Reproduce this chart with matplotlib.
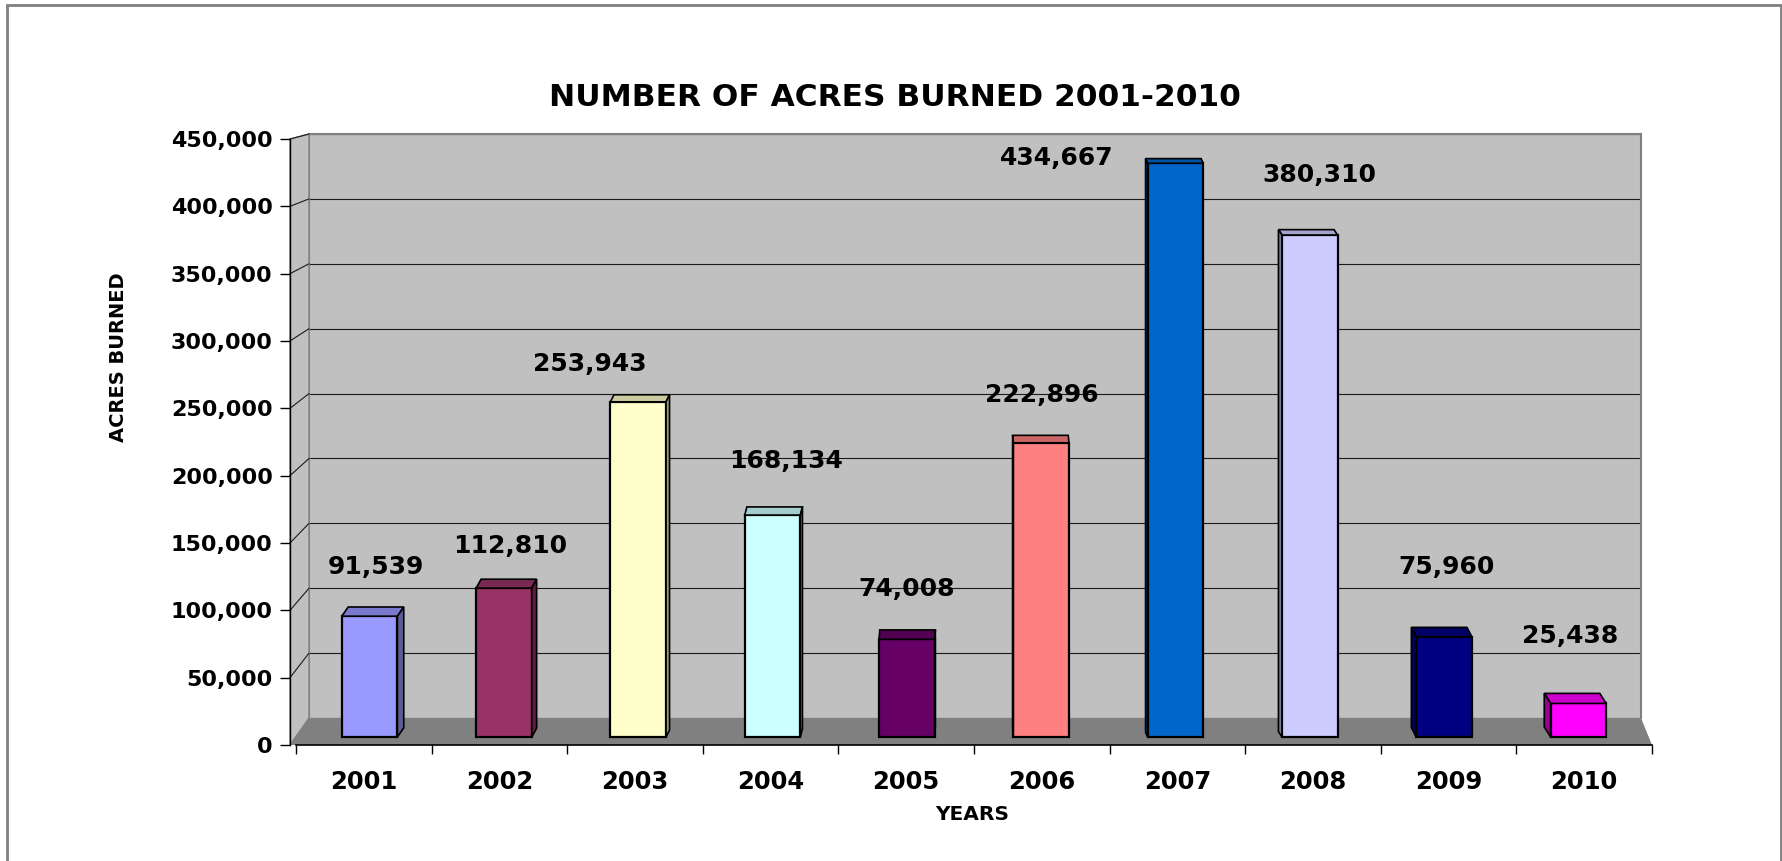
import matplotlib
matplotlib.use('Agg')
import matplotlib.pyplot as plt
from matplotlib.patches import Polygon, Rectangle, ConnectionPatch
from matplotlib.ticker import FuncFormatter
from matplotlib.colors import to_rgb
import numpy as np

# ---------------- data ----------------
years = ['2001', '2002', '2003', '2004', '2005', '2006', '2007', '2008', '2009', '2010']
acres = [91539, 112810, 253943, 168134, 74008, 222896, 434667, 380310, 75960, 25438]
y_ticks = [0, 50000, 100000, 150000, 200000, 250000, 300000, 350000, 400000, 450000]
title = 'NUMBER OF ACRES BURNED 2001-2010'
x_title = 'YEARS'
y_title = 'ACRES BURNED'

# ---------------- style ----------------
colors = ['#9999FF', '#993366', '#FFFFCC', '#CCFFFF', '#660066',
          '#FF8080', '#0066CC', '#CCCCFF', '#000080', '#FF00FF']
# data-label offsets (pixels: right, up) relative to the category centre at bar top
label_offsets_px = [(12, 49), (11, 42), (-45, 38), (15, 54), (0, 50),
                    (0, 48), (-121, 5), (6, 60), (-2, 70), (-14, 67)]

plt.rcParams['font.family'] = ['DejaVu Sans']
plt.rcParams['font.weight'] = 'bold'

W, H = 1783, 861
def fx(p): return p / W
def fy(p): return 1 - p / H
def box(l, t, r, b): return [fx(l), fy(b), fx(r) - fx(l), fy(t) - fy(b)]
def fpts(pts): return [(fx(a), fy(b)) for a, b in pts]

fig = plt.figure(figsize=(W / 100, H / 100), dpi=100)
fig.patch.set_facecolor('white')

# outer frame
fig.add_artist(Rectangle((fx(7), -0.05), fx(1781) - fx(7), fy(5) + 0.05, fill=False,
                         ec='#808080', lw=2, transform=fig.transFigure, zorder=0))

# back wall
wall = fig.add_axes(box(309, 134, 1641, 718), zorder=1)
wall.set_facecolor('#C0C0C0')
wall.set_xlim(0, 1)
wall.set_ylim(0, 450000)
wall.set_yticks(y_ticks)
wall.set_xticks([])
wall.tick_params(axis='y', length=0, labelleft=False)
wall.grid(axis='y', color='#1a1a1a', lw=0.8)
wall.set_axisbelow(True)
for sp in ['top', 'left', 'right']:
    wall.spines[sp].set_color('#808080')
    wall.spines[sp].set_linewidth(1.5)
wall.spines['bottom'].set_visible(False)

# side wall and floor
fig.add_artist(Polygon(fpts([(290, 139), (309, 134), (309, 718), (290, 745)]),
                       closed=True, fc='#C0C0C0', ec='#808080', lw=1,
                       transform=fig.transFigure, zorder=1.2))
fig.add_artist(Polygon(fpts([(309, 718), (1641, 718), (1652, 745), (290, 745)]),
                       closed=True, fc='#808080', ec='none',
                       transform=fig.transFigure, zorder=1.3))

# front value axis
axy = fig.add_axes(box(290, 139, 291, 745), zorder=1.6)
axy.set_facecolor('none')
axy.set_xlim(0, 1)
axy.set_ylim(0, 450000)
axy.set_yticks(y_ticks)
axy.set_xticks([])
axy.yaxis.set_major_formatter(FuncFormatter(lambda v, p: f'{int(v):,}'))
for sp in ['top', 'right', 'bottom']:
    axy.spines[sp].set_visible(False)
axy.spines['left'].set_color('black')
axy.spines['left'].set_linewidth(1)
axy.tick_params(axis='y', length=7.5, width=1, pad=5, labelsize=16)
for t in axy.get_yticklabels():
    t.set_fontweight('bold')

# diagonal grid lines on side wall
for v in y_ticks[1:]:
    cp = ConnectionPatch(xyA=(0, v), coordsA=axy.transData, xyB=(0, v), coordsB=wall.transData,
                         color='#1a1a1a', lw=0.8, zorder=1.4)
    fig.add_artist(cp)

# main bar axes
s = 1.32e-3           # pixels per acre
base_px = 737         # pixel row of bar bases
ax = fig.add_axes(box(296, 134, 1652, 745), zorder=3)
ax.set_facecolor('none')
ax.set_xlim(-0.5, len(years) - 0.5)
ax.set_ylim(-(745 - base_px) / s, (base_px - 134) / s)
for sp in ['top', 'left', 'right']:
    ax.spines[sp].set_visible(False)
ax.spines['bottom'].set_color('black')
ax.spines['bottom'].set_linewidth(1.2)
ax.set_yticks([])
x = np.arange(len(years))
ax.set_xticks(np.arange(len(years) + 1) - 0.5)
ax.set_xticklabels([])
ax.tick_params(axis='x', which='major', length=6.5, width=1, direction='out')
ax.set_xticks(x, minor=True)
ax.set_xticklabels(years, minor=True, fontsize=17.5, fontweight='bold')
ax.tick_params(axis='x', which='minor', length=0, pad=18)

px_per_cat = (1652 - 296) / len(years)
bw = 0.41
# slight perspective convergence of bars toward the centre
xb = x - 1.3 * (x - (len(years) - 1) / 2) / px_per_cat
ax.bar(xb, acres, width=bw, color=colors, edgecolor='black', linewidth=1.6, zorder=3)

def shade(c, f):
    r, g, b = to_rgb(c)
    return (r * f, g * f, b * f)

for i, v in enumerate(acres):
    dx_px = 1.4 * (4.5 - i)
    ytop = base_px - v * s
    dy_px = 4 + 0.01 * (ytop - 100)
    dxd = dx_px / px_per_cat
    dyd = dy_px / s
    xl, xr = xb[i] - bw / 2, xb[i] + bw / 2
    top = [(xl, v), (xr, v), (xr + dxd, v + dyd), (xl + dxd, v + dyd)]
    ax.add_patch(Polygon(top, closed=True, fc=shade(colors[i], 0.8), ec='black', lw=1.2, zorder=3.1))
    xe = xr if dx_px > 0 else xl
    side = [(xe, 0), (xe, v), (xe + dxd, v + dyd), (xe + dxd, dyd)]
    ax.add_patch(Polygon(side, closed=True, fc=shade(colors[i], 0.6), ec='black', lw=1.2, zorder=3.1))
    ox, oy = label_offsets_px[i]
    ax.annotate(f'{v:,}', xy=(i, v), xytext=(ox * 0.72, oy * 0.72), textcoords='offset points',
                ha='center', va='center', fontsize=18, fontweight='bold', color='black', zorder=5)

fig.text(fx(895), fy(97.5), title, ha='center', va='center', fontsize=22.5, fontweight='bold')
fig.text(fx(972), fy(815), x_title, ha='center', va='center', fontsize=14.5, fontweight='bold')
fig.text(fx(119), fy(357), y_title, ha='center', va='center', rotation=90, fontsize=14, fontweight='bold')

fig.savefig('out.png', dpi=100, facecolor='white')
